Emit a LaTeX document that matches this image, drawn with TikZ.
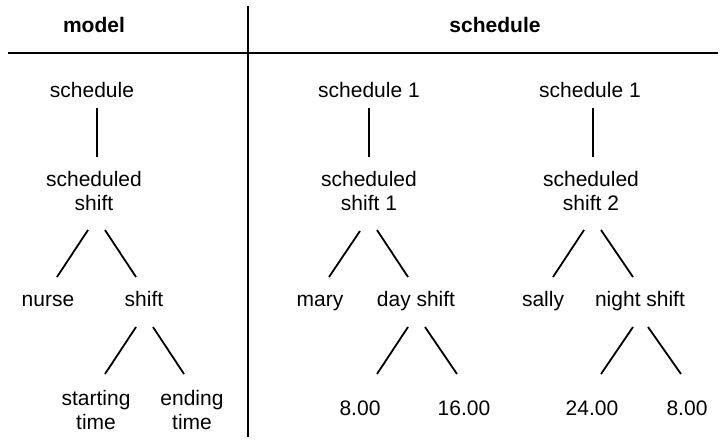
\documentclass[tikz,border=0pt]{standalone}
\usepackage{fontspec}
\setmainfont{Liberation Sans}
\usepackage{tikz}
\tikzset{
lbl/.style = {inner sep=0pt, outer sep=0pt, anchor=base, align=center,
              font=\fontsize{21}{24}\selectfont},
hdr/.style = {lbl, font=\fontsize{21}{24}\selectfont\bfseries},
link/.style = {line width=1.8pt}
}

\begin{document}
\begin{tikzpicture}[x=1pt, y=-1pt]
    \useasboundingbox (0,0) rectangle (720,439);
    % headers
    \node[hdr] (hdrModel) at (94,32) {model};
    \node[hdr] (hdrSched) at (495,32) {schedule};
    \draw[line width=2.2pt] (8,53) -- (718,53);
    \draw[line width=2.2pt] (248,6) -- (248,437);

    % model tree (base of a two-line node is its last line)
    \node[lbl] (mSched) at (92,97) {schedule};
    \node[lbl] (mSS) at (94,210) {scheduled\\shift};
    \node[lbl] (mNurse) at (48,306) {nurse};
    \node[lbl] (mShift) at (144,306) {shift};
    \node[lbl] (mStart) at (96,429) {starting\\time};
    \node[lbl] (mEnd) at (192,429) {ending\\time};
    \draw[link] ([shift={(5,11)}]mSched.base) -- ([shift={(3,-53)}]mSS.base);
    \draw[link] ([shift={(-6,20)}]mSS.base) -- ([shift={(9,-29)}]mNurse.base);
    \draw[link] ([shift={(11,20)}]mSS.base) -- ([shift={(-8,-29)}]mShift.base);
    \draw[link] ([shift={(-8,21)}]mShift.base) -- ([shift={(9,-55)}]mStart.base);
    \draw[link] ([shift={(9,21)}]mShift.base) -- ([shift={(-8,-55)}]mEnd.base);

    % first schedule
    \node[lbl] (aSched) at (369,97) {schedule 1};
    \node[lbl] (aSS) at (369,210) {scheduled\\shift 1};
    \node[lbl] (aMary) at (320,306) {mary};
    \node[lbl] (aDay) at (416,306) {day shift};
    \node[lbl] (aStart) at (360,415) {8.00};
    \node[lbl] (aEnd) at (464,415) {16.00};
    \draw[link] ([shift={(0,11)}]aSched.base) -- ([shift={(0,-53)}]aSS.base);
    \draw[link] ([shift={(-9,21)}]aSS.base) -- ([shift={(9,-29)}]aMary.base);
    \draw[link] ([shift={(8,20)}]aSS.base) -- ([shift={(-8,-29)}]aDay.base);
    \draw[link] ([shift={(-8,21)}]aDay.base) -- ([shift={(17,-41)}]aStart.base);
    \draw[link] ([shift={(9,21)}]aDay.base) -- ([shift={(-7,-41)}]aEnd.base);

    % second schedule
    \node[lbl] (bSched) at (590,97) {schedule 1};
    \node[lbl] (bSS) at (591,210) {scheduled\\shift 2};
    \node[lbl] (bSally) at (543,306) {sally};
    \node[lbl] (bNight) at (640,306) {night shift};
    \node[lbl] (bStart) at (592,415) {24.00};
    \node[lbl] (bEnd) at (687,415) {8.00};
    \draw[link] ([shift={(3,11)}]bSched.base) -- ([shift={(2,-53)}]bSS.base);
    \draw[link] ([shift={(-7,20)}]bSS.base) -- ([shift={(10,-29)}]bSally.base);
    \draw[link] ([shift={(10,20)}]bSS.base) -- ([shift={(-7,-29)}]bNight.base);
    \draw[link] ([shift={(-7,21)}]bNight.base) -- ([shift={(9,-41)}]bStart.base);
    \draw[link] ([shift={(8,21)}]bNight.base) -- ([shift={(-6,-41)}]bEnd.base);
\end{tikzpicture}
\end{document}
